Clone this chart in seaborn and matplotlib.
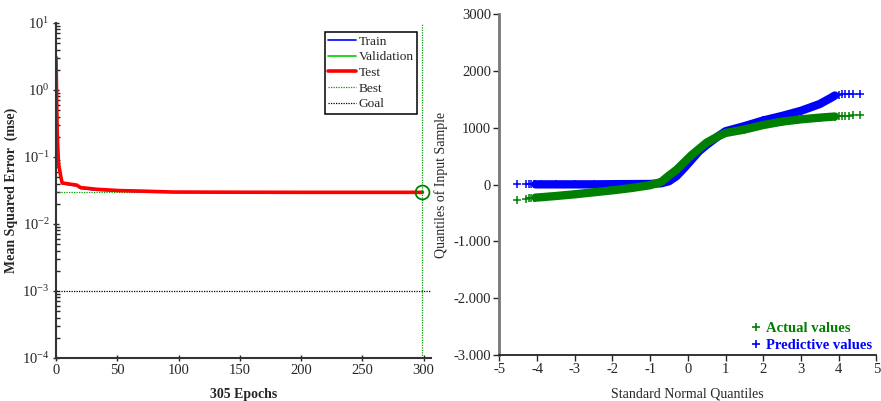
import numpy as np
import pandas as pd
import seaborn as sns
import matplotlib
matplotlib.use("Agg")
import matplotlib.pyplot as plt
from matplotlib.lines import Line2D

# ---------------- data ----------------
# Left panel: training performance (MSE vs epoch)
epochs = [0, 1, 2, 4, 5, 17, 20, 33, 52, 69, 95, 150, 200, 250, 299]
test_mse = [3.1, 0.23, 0.081, 0.05, 0.041, 0.038, 0.035, 0.033, 0.0315, 0.031, 0.030, 0.0298, 0.0297, 0.0297, 0.0297]
train_mse = [3.0, 0.22, 0.079, 0.049, 0.040, 0.037, 0.034, 0.032, 0.031, 0.0305, 0.0298, 0.0296, 0.0295, 0.0295, 0.0295]
val_mse = [3.1, 0.23, 0.080, 0.050, 0.041, 0.038, 0.035, 0.033, 0.0314, 0.031, 0.0300, 0.0298, 0.0298, 0.0298, 0.0298]
best_epoch = 299
best_mse = 0.0298
goal_mse = 0.001

# Right panel: normal QQ plot
pred_q = [-4.54, -4.28, -4.21, -4.15, -4.09, -4.04, -3.9, -3.5, -3.0, -2.5, -2.0, -1.5, -1.0, -0.7,
          -0.5, -0.3, -0.1, 0.1, 0.3, 0.5, 0.8, 1.0, 1.5, 2.0, 2.5, 3.0, 3.5, 3.8, 3.9, 4.01, 4.09,
          4.18, 4.27, 4.37, 4.57]
pred_v = [5, 5, 5, 5, 5, 5, 5, 5, 5, 5, 8, 10, 12, 25,
          60, 150, 290, 440, 590, 700, 850, 940, 1030, 1130, 1210, 1300, 1420, 1530, 1570, 1585, 1590,
          1595, 1598, 1600, 1605]
act_q = [-4.54, -4.28, -4.21, -4.15, -4.09, -4.04, -3.9, -3.5, -3.0, -2.5, -2.0, -1.5, -1.0, -0.7,
         -0.5, -0.3, -0.1, 0.1, 0.3, 0.5, 0.8, 1.0, 1.5, 2.0, 2.5, 3.0, 3.5, 3.8, 3.9, 4.01, 4.09,
         4.18, 4.27, 4.37, 4.57]
act_v = [-270, -245, -240, -235, -232, -228, -222, -200, -170, -135, -100, -60, -10, 50,
         160, 260, 390, 520, 630, 740, 850, 910, 970, 1050, 1110, 1150, 1180, 1195, 1200, 1205, 1210,
         1213, 1216, 1220, 1230]

ytick_vals = [3000, 2000, 1000, 0, -1000, -2000, -3000]
ytick_labels = ["3000", "2000", "1000", "0", "-1.000", "-2.000", "-3.000"]
xtick_vals = [-5, -4, -3, -2, -1, 0, 1, 2, 3, 4, 5]

# ---------------- style ----------------
sns.set_theme(style="ticks")
plt.rcParams["font.family"] = ["Liberation Serif", "DejaVu Serif"]
plt.rcParams["mathtext.fontset"] = "custom"
plt.rcParams["mathtext.rm"] = "Liberation Serif"
plt.rcParams["mathtext.it"] = "Liberation Serif:italic"
plt.rcParams["mathtext.bf"] = "Liberation Serif:bold"
plt.rcParams["axes.unicode_minus"] = False

fig = plt.figure(figsize=(8.81, 4.01), dpi=100)
ax1 = fig.add_axes([56 / 881, 1 - 358 / 401, 375 / 881, 335 / 401])
ax2 = fig.add_axes([499.3 / 881, 1 - 355 / 401, 377 / 881, 340.7 / 401])

# ---------------- left panel ----------------
perf = pd.DataFrame({"epoch": epochs, "train": train_mse, "val": val_mse, "test": test_mse})
sns.lineplot(data=perf, x="epoch", y="train", ax=ax1, color="#0000ff", lw=1.2)
sns.lineplot(data=perf, x="epoch", y="val", ax=ax1, color="#00cc00", lw=1.2)
sns.lineplot(data=perf, x="epoch", y="test", ax=ax1, color="#ff0000", lw=2.6)
ax1.set_yscale("log")
ax1.set_xlim(0, 306)
ax1.set_ylim(1e-4, 1e1)
ax1.axhline(best_mse, xmin=0, xmax=best_epoch / 306, color="#00a000", ls=(0, (1, 1)), lw=0.9, zorder=1)
ax1.axvline(best_epoch, color="#00a000", ls=(0, (1, 1)), lw=0.9)
ax1.axhline(goal_mse, color="black", ls=(0, (1, 1)), lw=0.9)
ax1.plot([best_epoch], [best_mse], marker="o", ms=10, mfc="none", mec="#008000", mew=1.3, zorder=5)
ax1.set_xticks([0, 50, 100, 150, 200, 250, 300])
ax1.set_xlabel("305 Epochs", fontweight="bold", fontsize=10, labelpad=8)
ax1.set_ylabel("Mean Squared Error  (mse)", fontweight="bold", fontsize=10, labelpad=3)
ax1.tick_params(axis="both", which="major", labelsize=10.5, direction="inout", length=5, width=1, pad=2)
ax1.tick_params(axis="y", which="minor", direction="in", length=3, width=1)
ax1.yaxis.set_minor_locator(matplotlib.ticker.LogLocator(base=10, subs=np.arange(2, 10)))
for s in ["top", "right"]:
    ax1.spines[s].set_visible(False)
for s in ["left", "bottom"]:
    ax1.spines[s].set_color("#333333")
    ax1.spines[s].set_linewidth(1.5)

handles = [
    Line2D([], [], color="#0000ff", lw=1.2, label="Train"),
    Line2D([], [], color="#00cc00", lw=1.2, label="Validation"),
    Line2D([], [], color="#ff0000", lw=2.6, label="Test"),
    Line2D([], [], color="#00a000", lw=0.9, ls=(0, (1, 1)), label="Best"),
    Line2D([], [], color="black", lw=0.9, ls=(0, (1, 1)), label="Goal"),
]
leg = ax1.legend(handles=handles, loc="upper right", bbox_to_anchor=(0.963, 0.973), fontsize=9.6,
                 frameon=True, fancybox=False, edgecolor="black", framealpha=1,
                 handlelength=2.1, handletextpad=0.2, borderpad=0.25, labelspacing=0.25,
                 borderaxespad=0)
leg.get_frame().set_linewidth(1.1)

# ---------------- right panel ----------------
pred = pd.DataFrame({"q": pred_q, "v": pred_v})
act = pd.DataFrame({"q": act_q, "v": act_v})
band_pred = pred[(pred.q > -4.05) & (pred.q < 3.95)]
band_act = act[(act.q > -4.05) & (act.q < 3.95)]
sns.lineplot(data=band_pred, x="q", y="v", ax=ax2, color="#0000ff", lw=6, sort=False, zorder=2)
sns.scatterplot(data=pred, x="q", y="v", ax=ax2, marker="+", color="#0000ff", s=30, linewidth=1.1, zorder=3)
sns.lineplot(data=band_act, x="q", y="v", ax=ax2, color="#008000", lw=6, sort=False, zorder=4)
sns.scatterplot(data=act, x="q", y="v", ax=ax2, marker="+", color="#008000", s=30, linewidth=1.1, zorder=5)
ax2.set_xlim(-5, 5)
ax2.set_ylim(-3000, 3000)
ax2.set_yticks(ytick_vals)
ax2.set_yticklabels(ytick_labels)
ax2.set_xticks(xtick_vals)
ax2.set_xticklabels([str(v) for v in xtick_vals])
ax2.set_xlabel("Standard Normal Quantiles", fontsize=10, labelpad=8)
ax2.set_ylabel("Quantiles of Input Sample", fontsize=10, labelpad=4)
ax2.tick_params(axis="both", labelsize=10.5, direction="out", length=4, width=1, pad=2)
for s in ["top", "right"]:
    ax2.spines[s].set_visible(False)
ax2.spines["left"].set_color("#777777")
ax2.spines["left"].set_linewidth(2)
ax2.spines["bottom"].set_color("#222222")
ax2.spines["bottom"].set_linewidth(1.3)

qq_handles = [
    Line2D([], [], color="#008000", marker="+", ls="none", ms=6, mew=1.2, label="Actual values"),
    Line2D([], [], color="#0000ff", marker="+", ls="none", ms=6, mew=1.2, label="Predictive values"),
]
ax2.legend(handles=qq_handles, loc="lower right", bbox_to_anchor=(1.025, -0.03), frameon=False,
           prop={"weight": "bold", "size": 10.5}, labelcolor=["#008000", "#0000ff"],
           handlelength=0.6, handletextpad=0.4, labelspacing=0.25)

fig.savefig("out.png", dpi=100)
